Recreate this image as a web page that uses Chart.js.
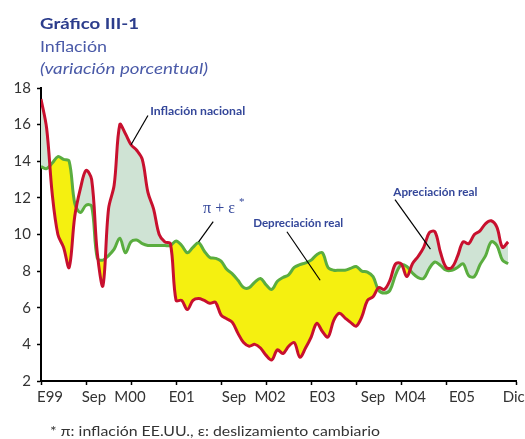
<!DOCTYPE html>
<html>
<head>
<meta charset="utf-8">
<script src="https://cdn.jsdelivr.net/npm/chart.js@4.4.1/dist/chart.umd.min.js"></script>
<style>
  html, body { margin: 0; padding: 0; background: #fff; }
  #wrap { width: 525px; height: 439px; }
</style>
</head>
<body>
<div id="wrap"><canvas id="inflChart"></canvas></div>
<script>
// Monthly data, Jan 1999 - Dec 2005 (index 0 = E99)
const inflacionNacional = [
  17.4, 15.8, 12.2, 10.0, 9.3, 8.2, 11.0, 12.5, 13.5, 13.0, 9.0, 7.2,
  11.4, 12.7, 16.0, 15.5, 14.9, 14.6, 14.1, 12.3, 11.4, 10.0, 9.6, 9.5,
  6.4, 6.4, 5.9, 6.4, 6.5, 6.4, 6.25, 6.3, 5.6, 5.4, 5.2, 4.6,
  4.1, 3.9, 4.0, 3.8, 3.4, 3.15, 3.7, 3.5, 3.9, 4.1, 3.3, 3.8,
  4.4, 5.15, 4.7, 4.4, 5.3, 5.7, 5.45, 5.2, 5.0, 5.5, 6.4, 6.6,
  7.1, 7.0, 7.5, 8.4, 8.4, 7.7, 8.4, 8.8, 9.3, 10.1, 10.15, 9.0,
  8.2, 8.2, 8.8, 9.6, 9.5, 10.0, 10.2, 10.6, 10.75, 10.4, 9.3, 9.6
];
const piMasEpsilon = [
  13.7, 13.6, 13.9, 14.25, 14.1, 14.0, 11.7, 11.2, 11.6, 11.55, 8.7, 8.6,
  8.85, 9.2, 9.8, 9.0, 9.6, 9.7, 9.5, 9.4, 9.4, 9.4, 9.4, 9.4,
  9.65, 9.4, 9.0, 9.3, 9.55, 9.1, 8.75, 8.7, 8.55, 8.1, 7.85, 7.5,
  7.1, 7.1, 7.4, 7.6, 7.25, 7.0, 7.45, 7.65, 7.8, 8.2, 8.35, 8.45,
  8.6, 8.9, 9.0, 8.2, 8.05, 8.05, 8.05, 8.15, 8.25, 8.0, 7.95, 7.7,
  6.95, 6.8, 6.95, 7.8, 8.35, 8.25, 7.9, 7.65, 7.6, 8.15, 8.5, 8.3,
  8.05, 8.05, 8.2, 8.4, 7.75, 7.7, 8.35, 8.85, 9.6, 9.4, 8.6, 8.4
];
const tickMonths = [0, 8, 16, 24, 32, 40, 48, 56, 64, 72, 84.4];
const tickLabels = ['E99', 'Sep', 'M00', 'E01', 'Sep', 'M02', 'E03', 'Sep', 'M04', 'E05', 'Dic'];
// where the labels sit (they are not centred on the marks in the original)
const labelMonths = [1.6, 9.4, 15.8, 25, 34.3, 40.7, 50, 59, 65.6, 74.8, 84];
const yTicks = [2, 4, 6, 8, 10, 12, 14, 16, 18];

const azul = '#34479a';

// draw text squeezed/stretched to a given width
function fitText(c, txt, x, y, w) {
  const m = c.measureText(txt).width;
  c.save();
  c.translate(x, y);
  c.scale(w / m, 1);
  c.fillText(txt, 0, 0);
  c.restore();
}

const textos = {
  id: 'textos',
  afterDraw(chart) {
    const c = chart.ctx;
    const sx = chart.scales.x, sy = chart.scales.y;
    const px = m => sx.getPixelForValue(m);
    const py = v => sy.getPixelForValue(v);
    c.save();
    c.textBaseline = 'alphabetic';
    c.textAlign = 'left';
    c.fillStyle = '#2c3d8c';
    c.font = 'bold 16px Lato';
    fitText(c, 'Gráfico III-1', 40, 29, 99);
    c.fillStyle = '#4a5aa8';
    c.font = '16px Lato';
    fitText(c, 'Inflación', 40, 52, 67);
    c.font = 'italic 16px Lato';
    fitText(c, '(variación porcentual)', 40, 74, 168);

    // x labels
    c.fillStyle = '#333';
    c.font = '15px Lato';
    c.textAlign = 'center';
    tickLabels.forEach((t, i) => c.fillText(t, px(labelMonths[i]), 402));
    c.textAlign = 'left';

    // leader lines
    c.strokeStyle = '#000';
    c.lineWidth = 1.2;
    const lines = [
      [19.0, 16.5, 16.0, 14.9],
      [30.6, 10.7, 28.0, 9.6],
      [43.7, 10.15, 49.6, 7.5],
      [62.9, 11.9, 69.2, 9.2]
    ];
    lines.forEach(l => {
      c.beginPath();
      c.moveTo(px(l[0]), py(l[1]));
      c.lineTo(px(l[2]), py(l[3]));
      c.stroke();
    });

    c.fillStyle = azul;
    c.font = 'bold 11px Lato';
    c.textBaseline = 'middle';
    fitText(c, 'Inflación nacional', px(19.4), py(16.7), 95);
    fitText(c, 'Depreciación real', px(37.7), py(10.6), 90);
    fitText(c, 'Apreciación real', px(62.6), py(12.3), 84);

    c.font = '16px "Liberation Serif"';
    c.fillText('π + ε', px(28.8), py(11.4));
    c.font = '11px "Liberation Serif"';
    c.fillText('*', px(28.8) + 36, py(11.4) - 7);

    c.fillStyle = '#333';
    c.font = '13px Lato';
    c.textBaseline = 'alphabetic';
    fitText(c, '* π: inflación EE.UU., ε: deslizamiento cambiario', 50, 436, 330);
    c.restore();
  }
};

new Chart(document.getElementById('inflChart'), {
  type: 'line',
  data: {
    datasets: [
      {
        label: 'Inflación nacional',
        data: inflacionNacional.map((v, i) => ({ x: i, y: v })),
        borderColor: '#c8102e',
        borderWidth: 3,
        pointRadius: 0,
        tension: 0.35,
        fill: { target: 1, above: '#cfe3d4', below: '#f5f010' }
      },
      {
        label: 'π + ε*',
        data: piMasEpsilon.map((v, i) => ({ x: i, y: v })),
        borderColor: '#5aad3f',
        borderWidth: 3,
        pointRadius: 0,
        tension: 0.35,
        fill: false
      }
    ]
  },
  options: {
    responsive: true,
    maintainAspectRatio: false,
    animation: false,
    layout: { padding: { left: 0, top: 88, right: 9, bottom: 28 } },
    plugins: {
      legend: { display: false },
      tooltip: { enabled: false },
      filler: { drawTime: 'beforeDatasetsDraw' }
    },
    scales: {
      x: {
        type: 'linear',
        min: 0,
        max: 84.4,
        afterBuildTicks: s => { s.ticks = tickMonths.map(v => ({ value: v })); },
        afterFit: s => { s.height = 30; },
        border: { color: '#000', width: 2 },
        grid: { drawOnChartArea: false, color: '#000', tickLength: 4, tickWidth: 1.5 },
        ticks: { display: false }
      },
      y: {
        min: 2,
        max: 18,
        afterBuildTicks: s => { s.ticks = yTicks.map(v => ({ value: v })); },
        afterFit: s => { s.width = 41; },
        border: { color: '#000', width: 2 },
        grid: { drawOnChartArea: false, color: '#000', tickLength: 4, tickWidth: 1.5 },
        ticks: { color: '#333', font: { family: 'Lato', size: 15 }, padding: 6 }
      }
    }
  },
  plugins: [textos]
});
</script>
</body>
</html>
